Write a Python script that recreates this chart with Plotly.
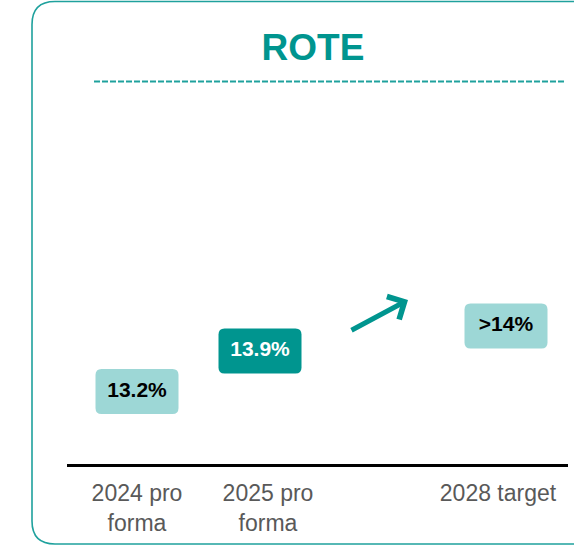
import plotly.graph_objects as go

# ---- data ----
categories = ["2024 pro<br>forma", "2025 pro<br>forma", "2028 target"]
slots = [0, 1, 3]
rote_values = [13.2, 13.9, 14.33]
value_labels = ["13.2%", "13.9%", ">14%"]
box_colors = ["#9dd7d6", "#00958f", "#9dd7d6"]
text_colors = ["#000000", "#ffffff", "#000000"]

# style: horizontal nudge of the category captions (pixels)
caption_nudge_px = [0, 8, -8]

W, H = 574, 547
TEAL = "#00958f"
LINE_TEAL = "#1fa19d"
FONT = "Arial, Liberation Sans, sans-serif"
PX_PER_SLOT = 123


def px(x):
    return x / W


def py(y):
    return 1 - y / H


fig = go.Figure()

# rounded value boxes (pixel-sized, anchored at data points)
bw, bh, r = 41.5, 22.5, 6
box_path = (
    f"M {-bw + r},{-bh} L {bw - r},{-bh} Q {bw},{-bh} {bw},{-bh + r} "
    f"L {bw},{bh - r} Q {bw},{bh} {bw - r},{bh} L {-bw + r},{bh} "
    f"Q {-bw},{bh} {-bw},{bh - r} L {-bw},{-bh + r} Q {-bw},{-bh} {-bw + r},{-bh} Z"
)
shapes = []
for xs, v, c in zip(slots, rote_values, box_colors):
    shapes.append(dict(
        type="path", xref="x", yref="y", xsizemode="pixel", ysizemode="pixel",
        xanchor=xs, yanchor=v, path=box_path, fillcolor=c, line=dict(width=0),
        layer="below",
    ))

# outer rounded frame
L, T, B, R, rr = 32, 1.5, 544, 640, 23
frame = (
    f"M {px(R)},{py(T)} L {px(L + rr)},{py(T)} Q {px(L)},{py(T)} {px(L)},{py(T + rr)} "
    f"L {px(L)},{py(B - rr)} Q {px(L)},{py(B)} {px(L + rr)},{py(B)} L {px(R)},{py(B)}"
)
shapes.append(dict(type="path", xref="paper", yref="paper", path=frame,
                   line=dict(color=LINE_TEAL, width=1.6)))

# dashed rule under title
shapes.append(dict(type="line", xref="paper", yref="paper",
                   x0=px(94), x1=px(566), y0=py(81.5), y1=py(81.5),
                   line=dict(color=LINE_TEAL, width=2, dash="6px,2px")))

fig.add_trace(go.Scatter(
    x=slots, y=rote_values, mode="text", text=value_labels,
    textposition="middle center",
    textfont=dict(size=21, color=text_colors, family=FONT, weight="bold"),
    hoverinfo="skip", showlegend=False,
))

fig.add_annotation(
    xref="paper", yref="paper", x=px(408), y=py(300),
    ax=-58, ay=31, axref="pixel", ayref="pixel",
    showarrow=True, arrowhead=4, arrowwidth=5, arrowsize=1, arrowcolor=TEAL,
    text="",
)

tick_positions = [s + n / PX_PER_SLOT for s, n in zip(slots, caption_nudge_px)]

fig.update_layout(
    width=W, height=H,
    margin=dict(l=0, r=0, t=0, b=0),
    paper_bgcolor="white", plot_bgcolor="white",
    title=dict(text="ROTE", x=px(313), y=py(47), xanchor="center", yanchor="middle",
               xref="paper", yref="paper",
               font=dict(size=37, color=TEAL, family=FONT, weight="bold")),
    shapes=shapes,
    xaxis=dict(domain=[px(67), px(568)], range=[-70 / PX_PER_SLOT, 431 / PX_PER_SLOT],
               tickvals=tick_positions, ticktext=categories, showgrid=False,
               zeroline=False, showline=True, linecolor="black", linewidth=3,
               ticks="", tickfont=dict(size=23, color="#595959", family=FONT),
               ticklabelstandoff=6, fixedrange=True),
    yaxis=dict(domain=[py(464), py(90)], range=[11.9556, 18.385], visible=False,
               fixedrange=True),
    showlegend=False,
)

fig.write_html("out.html", config={"displayModeBar": False},
               post_script="document.body.style.margin='0';document.body.style.overflow='hidden';")
